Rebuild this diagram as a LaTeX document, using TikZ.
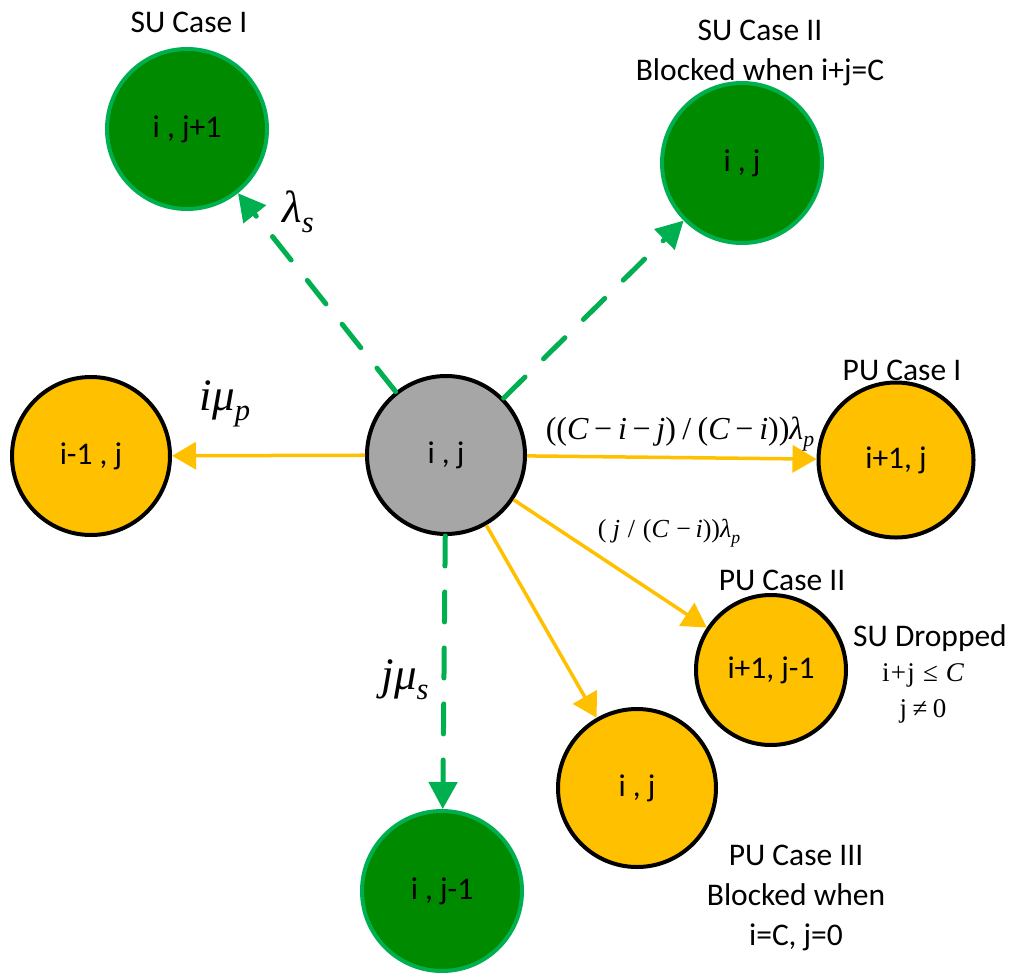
\documentclass[tikz,border=0pt]{standalone}
\usepackage{fontspec}
\usepackage{graphicx}
\setmainfont{Carlito}
\newfontfamily\tms{Liberation Serif}
\usetikzlibrary{arrows.meta}
\definecolor{sufill}{HTML}{008A00}
\definecolor{suline}{HTML}{00B050}
\definecolor{puorange}{HTML}{FFC000}
\definecolor{stategray}{HTML}{A6A6A6}
% formula pieces set in a Times-like serif
\newcommand\fmit[1]{{\tms\itshape #1}}
\newcommand\fmrm[1]{{\tms #1}}
\newcommand\fmsub[1]{\raisebox{-0.45ex}{\scalebox{0.68}{\tms\itshape #1}}}
\newcommand\fmminus{\hspace{0.18em}\fmrm{−}\hspace{0.18em}}
\tikzset{
  state/.style={circle, minimum size=158pt, inner sep=0pt, line width=4pt,
    font=\fontsize{31.5}{36}\selectfont},
  sustate/.style={state, draw=suline, fill=sufill, minimum size=160pt},
  pustate/.style={state, draw=black, fill=puorange},
  curstate/.style={state, draw=black, fill=stategray},
  sutrans/.style={draw=suline, line width=5pt, line cap=round,
    dash pattern=on 30pt off 26pt, -{Triangle[length=27pt,width=28pt]}},
  putrans/.style={draw=puorange, line width=3.5pt,
    -{Triangle[length=24pt,width=27pt]}},
  caption/.style={font=\fontsize{31.5}{40}\selectfont, align=center, inner sep=0pt},
  rate/.style={inner sep=0pt, font=\fontsize{45}{46}\selectfont},
}
\begin{document}
\begin{tikzpicture}[x=1pt, y=-1pt]
\useasboundingbox (0,0) rectangle (1017,972);

% states
\node[curstate] (cur) at (446,455) {i , j};
\node[sustate] (su1) at (187,129) {i , j+1};
\node[sustate] (su2) at (742,163) {i , j};
\node[sustate] (su3) at (442,891) {i , j-1};
\node[pustate] (pl) at (91,456) {i-1 , j};
\node[pustate, minimum size=155pt] (pr) at (896,460) {i+1, j};
\node[pustate, minimum size=150pt] (p2) at (771,670) {i+1, j-1};
\node[pustate] (p3) at (637,788) {i , j};

% transitions
\draw[sutrans] (cur) -- (su1);
\draw[sutrans] (cur) -- (su2);
\draw[sutrans] (cur) -- (su3);
\draw[putrans] (cur) -- (pl);
\draw[putrans] (cur) -- (pr);
\draw[putrans] (cur) -- (p2);
\draw[putrans] (cur) -- (p3);

% rates
\node[rate] (rls) at (298,212) {\fmit{λ}\fmsub{s}};
\node[rate] (rmp) at (225,404) {\fmit{iμ}\fmsub{p}};
\node[rate] (rms) at (405,680) {\fmit{jμ}\fmsub{s}};
\node[inner sep=0pt, font=\fontsize{32}{34}\selectfont] (rpr) at (680,434)
  {\fmrm{((}\fmit{C}\fmminus\fmit{i}\fmminus\fmit{j}\fmrm{)\hspace{0.2em}/\hspace{0.2em}(}\fmit{C}\fmminus\fmit{i}\fmrm{))}\fmit{λ}\fmsub{p}};
\node[inner sep=0pt, font=\fontsize{26}{28}\selectfont] (rp2) at (669,533)
  {\fmrm{(}\hspace{0.25em}\fmit{j}\hspace{0.3em}\fmrm{/\hspace{0.3em}(}\fmit{C}\hspace{0.1em}\fmminus\fmit{i}\fmrm{))}\fmit{λ}\fmsub{p}};

% case captions
\node[caption] (csu1) at (189,22) {SU Case I};
\node[caption] (csu2) at (760,53) {SU Case II\\Blocked when i+j=C};
\node[caption] (cpr) at (902,370) {PU Case I};
\node[caption] (cp2) at (782,580) {PU Case II};
\node[caption] (cdrop) at (930,638) {SU Dropped};
\node[inner sep=0pt, font=\fontsize{27}{36}\selectfont, align=center] (cdropc) at (923,693)
  {\fmrm{i\hspace{0.05em}+\hspace{0.05em}j\hspace{0.3em}≤\hspace{0.3em}}\fmit{C}\\\fmrm{j\hspace{0.2em}≠\hspace{0.2em}0}};
\node[caption] (cp3) at (796,898) {PU Case III\\Blocked when\\i=C, j=0};
\end{tikzpicture}
\end{document}
